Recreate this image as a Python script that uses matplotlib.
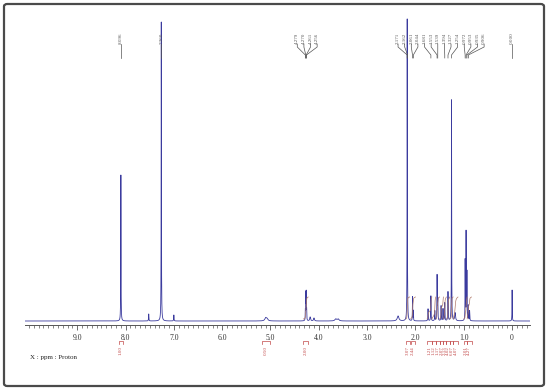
import numpy as np
import matplotlib
matplotlib.use("Agg")
import matplotlib.pyplot as plt
from matplotlib.patches import FancyBboxPatch
from matplotlib.transforms import blended_transform_factory

# ---------------- data ----------------
peak_ppm = [8.096, 7.520, 7.260, 7.000, 5.100, 5.070, 4.279, 4.270, 4.261, 4.252,
            4.180, 4.100, 3.650, 3.600, 2.360, 2.171, 2.162, 2.061, 2.044, 1.740,
            1.681, 1.600, 1.553, 1.539, 1.470, 1.430, 1.394, 1.327, 1.254, 1.180,
            0.972, 0.953, 0.935, 0.906, 0.880, 0.000]
peak_height = [146, 7, 299, 6, 3, 2, 9, 26, 27, 10,
               4, 3, 2, 2, 5, 301, 10, 24, 10, 12,
               25, 10, 45, 20, 15, 12, 18, 29, 221, 8,
               60, 88, 48, 15, 10, 31]
peak_width = [0.003, 0.004, 0.003, 0.004, 0.02, 0.02, 0.003, 0.003, 0.003, 0.003,
              0.01, 0.01, 0.02, 0.02, 0.02, 0.003, 0.003, 0.003, 0.003, 0.004,
              0.004, 0.004, 0.004, 0.004, 0.004, 0.004, 0.004, 0.004, 0.003, 0.01,
              0.003, 0.003, 0.003, 0.003, 0.004, 0.003]

single_labels = ["8.096", "7.260", "0.000"]
single_label_ppm = [8.096, 7.260, 0.000]
group1_labels = ["4.279", "4.270", "4.261", "4.256"]
group1_ppm = [4.279, 4.270, 4.261, 4.256]
group2_labels = ["2.171", "2.162", "2.061", "2.044", "1.681", "1.553", "1.539",
                 "1.394", "1.327", "1.254", "0.972", "0.953", "0.935", "0.906"]
group2_ppm = [2.171, 2.162, 2.061, 2.044, 1.681, 1.553, 1.539,
              1.394, 1.327, 1.254, 0.972, 0.953, 0.935, 0.906]

integ_start = [8.14, 5.18, 4.32, 2.20, 2.10, 1.76, 1.66, 1.58, 1.50, 1.42, 1.36, 1.29, 1.22, 1.00, 0.93]
integ_end = [8.06, 5.02, 4.22, 2.12, 2.00, 1.66, 1.58, 1.50, 1.42, 1.36, 1.29, 1.22, 1.12, 0.93, 0.84]
integ_value = ["1.00", "0.50", "2.00", "3.07", "2.44", "1.21", "1.12", "1.17", "2.07",
               "2.13", "4.02", "6.07", "4.07", "2.01", "4.27"]

tick_major = [9.0, 8.0, 7.0, 6.0, 5.0, 4.0, 3.0, 2.0, 1.0, 0.0]
tick_labels = ["9.0", "8.0", "7.0", "6.0", "5.0", "4.0", "3.0", "2.0", "1.0", "0"]

# ---------------- figure ----------------
W, H = 550, 392
fig = plt.figure(figsize=(W / 100, H / 100), dpi=100)
fig.patch.set_facecolor("white")

def fy(px):
    return 1 - px / H

border = FancyBboxPatch((4 / W, fy(386)), 540 / W, 382 / H,
                        boxstyle="round,pad=0,rounding_size=0.006",
                        transform=fig.transFigure, fill=False,
                        edgecolor="#4a4a4a", linewidth=1.6)
fig.patches.append(border)

ax = fig.add_axes([25 / W, fy(325), 505 / W, (325 - 15) / H])
ax.set_xlim(10.08, -0.37)
ax.set_ylim(-4, 306)

x = np.linspace(10.08, -0.37, 40000)
y = np.zeros_like(x)
for p, h, w in zip(peak_ppm, peak_height, peak_width):
    y += h * w ** 2 / ((x - p) ** 2 + w ** 2)
ax.plot(x, y, color="#3b3b9e", lw=0.6)

# integral curves
for s, e in zip(integ_start[2:], integ_end[2:]):
    m = (x <= s) & (x >= e)
    xs = x[m]
    cs = np.cumsum(y[m])
    cs = cs / cs[-1]
    ax.plot(xs, 2 + cs * 22, color="#b07a6a", lw=0.5)

# axis style
for sp in ["left", "right", "top"]:
    ax.spines[sp].set_visible(False)
ax.spines["bottom"].set_color("#555555")
ax.spines["bottom"].set_linewidth(0.7)
ax.set_yticks([])
ax.set_xticks(tick_major)
ax.set_xticklabels(tick_labels, fontfamily="Liberation Serif", fontsize=5.5, color="#333333")
ax.set_xticks(np.arange(-0.3, 10.05, 0.1), minor=True)
ax.tick_params(axis="x", which="major", direction="out", length=3.5, width=0.6,
               color="#555555", pad=3)
ax.tick_params(axis="x", which="minor", direction="out", length=2, width=0.5,
               color="#555555")

bt = blended_transform_factory(ax.transData, fig.transFigure)

# peak labels
lab_kw = dict(rotation=90, ha="center", va="bottom", fontsize=3.6,
              fontfamily="Liberation Serif", color="#555555", transform=bt)
for t, p in zip(single_labels, single_label_ppm):
    ax.text(p, fy(44), t, **lab_kw)
    ax.plot([p, p], [fy(44), fy(58)], color="#555555", lw=0.5, transform=bt, clip_on=False)

def group(labels, ppms, centre):
    n = len(labels)
    step = 0.137
    pos = [centre + step * (n - 1) / 2 - step * i for i in range(n)]
    for t, lp, p in zip(labels, pos, ppms):
        ax.text(lp, fy(44), t, **lab_kw)
        ax.plot([lp, lp, p, p], [fy(44), fy(47), fy(55), fy(58)],
                color="#555555", lw=0.5, transform=bt, clip_on=False)

group(group1_labels, group1_ppm, 4.24)
group(group2_labels, group2_ppm, 1.47)

# integration marks
for s, e, v in zip(integ_start, integ_end, integ_value):
    c = "#c24848"
    ax.plot([s, s, e, e], [fy(344), fy(341), fy(341), fy(344)], color=c, lw=0.5,
            transform=bt, clip_on=False)
    ax.text((s + e) / 2, fy(346), v, rotation=90, ha="center", va="top",
            fontsize=3.6, fontfamily="Liberation Serif", color=c, transform=bt)

fig.text(30 / W, fy(357), "X : ppm : Proton", fontsize=5, fontfamily="Liberation Serif",
         color="#222222", ha="left", va="center")

fig.savefig("out.png", dpi=100)
